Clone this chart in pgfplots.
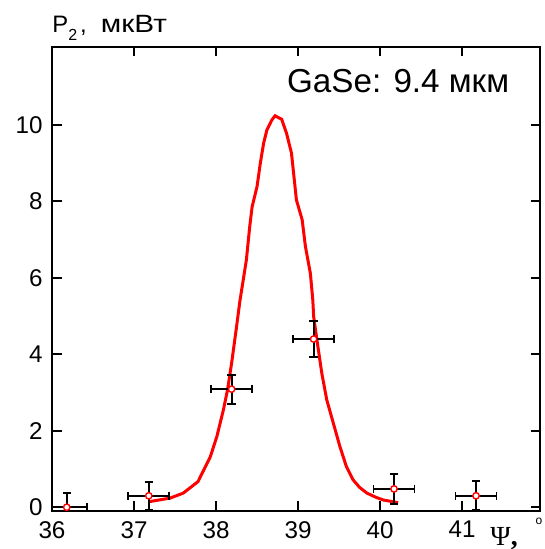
\documentclass[border=0pt]{standalone}
\usepackage{fontspec}
\setmainfont{Liberation Sans}
\newfontfamily\serif{Liberation Serif}
\usepackage{pgfplots}
\pgfplotsset{compat=1.18}
\begin{document}
\begin{tikzpicture}
\useasboundingbox (-26pt,-19.15pt) rectangle (246pt,255.35pt);
\begin{axis}[
  scale only axis, width=244pt, height=231.85pt,
  at={(0pt,0pt)}, anchor=south west,
  xmin=36, xmax=41.95, ymin=-0.09, ymax=12.04,
  xtick={36,...,41}, ytick={0,2,...,10},
  tick align=inside, major tick length=4.75pt,
  tick pos=both,
  axis line style={line width=1pt},
  every tick/.style={black, line width=1pt},
  tick label style={font=\fontsize{12.1}{12}\selectfont, inner sep=0pt},
  xticklabel style={yshift=-5pt},
  yticklabel style={xshift=-4.5pt},
  /pgf/number format/assume math mode=true,
]
\addplot[red, line width=1.5pt, no marks] coordinates {
(37.195,0.15) (37.44,0.24) (37.60,0.37) (37.78,0.67) (37.93,1.32) (38.01,1.85)
(38.09,2.55) (38.14,3.07) (38.19,3.77) (38.25,4.72) (38.29,5.38) (38.37,6.47)
(38.41,7.33) (38.44,7.86) (38.50,8.39) (38.54,9.00) (38.58,9.52) (38.62,9.87)
(38.68,10.13) (38.72,10.24) (38.80,10.15) (38.86,9.78) (38.92,9.26) (38.95,8.65)
(38.98,8.04) (39.05,7.52) (39.09,6.82) (39.15,6.12) (39.18,5.42) (39.19,4.99)
(39.23,4.38) (39.29,3.50) (39.35,2.81) (39.43,2.20) (39.51,1.59) (39.59,1.06)
(39.67,0.72) (39.75,0.52) (39.84,0.37) (39.95,0.26) (40.04,0.19) (40.22,0.12)
};
\addplot[only marks, mark=*, mark size=1.6pt,
  mark options={fill=white, draw=red, line width=0.7pt},
  error bars/.cd, x dir=both, x explicit, y dir=both, y explicit,
  error bar style={black, line width=0.9pt},
  error mark options={black, line width=0.9pt, mark size=2.1pt, rotate=90}]
table[x=x, y=y, x error=ex, y error=ey] {
x y ex ey
36.18 0.00 0.25 0.38
37.18 0.30 0.25 0.37
38.19 3.09 0.25 0.38
39.19 4.40 0.25 0.47
40.17 0.48 0.25 0.40
41.17 0.30 0.25 0.38
};
\end{axis}
\node[anchor=base west, inner sep=0pt] at (0pt,238.85pt)
  {\fontsize{11.9}{12}\selectfont P\raisebox{-0.3em}{\fontsize{8}{8}\selectfont 2}\hspace{0.12em},\hspace{0.6em}\scalebox{1.25}[1.05]{мкВт}};
\node[anchor=base west, inner sep=0pt] at (117.35pt,209.2pt)
  {\fontsize{16.6}{17}\selectfont GaSe: 9.4 мкм};
\node[anchor=base west, inner sep=0pt] at (219pt,-17.15pt)
  {\serif\fontsize{13.8}{14}\selectfont Ψ\textbf{,}};
\node[inner sep=0pt] at (243.5pt,-5.5pt) {\fontsize{6}{6}\selectfont o};
\end{tikzpicture}
\end{document}
